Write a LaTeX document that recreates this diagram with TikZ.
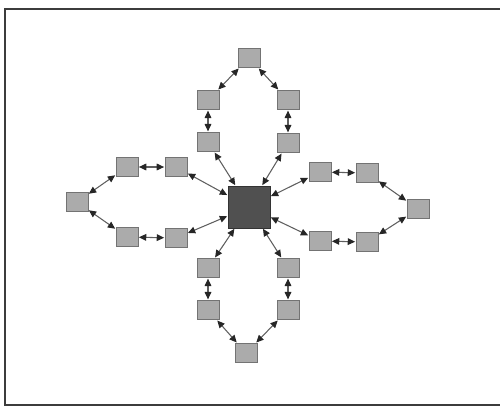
\documentclass[tikz,border=0pt]{standalone}
\usetikzlibrary{arrows.meta}
\definecolor{rim}{HTML}{3C3C3C}
\definecolor{hubgray}{HTML}{505050}
\definecolor{cell}{HTML}{ABABAB}
\definecolor{wire}{HTML}{5E5E5E}

\begin{document}
\begin{tikzpicture}[x=0.02cm,y=-0.02cm,>={Triangle[length=4.2pt,width=3.8pt,color=black!85]},
  box/.style={draw=black!55,fill=cell,minimum width=0.44cm,minimum height=0.39cm,inner sep=0pt},
  link/.style={wire,line width=0.6pt,<->,shorten <=0.3pt,shorten >=0.3pt}]
  \useasboundingbox (0,0) rectangle (500,409);
  % scanned page frame, open on the right
  \draw[rim,line width=1.1pt] (500,9)--(5,9)--(5,405)--(500,405);
  \node[box,fill=hubgray,draw=black!80,minimum width=0.84cm,minimum height=0.84cm]
    (hub) at (249,207) {};
  \foreach \n/\x/\y in {up1/208/142,up2/208/100,up3/249/58,up4/288/100,up5/288/143,
                        dn1/208/268,dn2/208/310,dn3/246/353,dn4/288/310,dn5/288/268,
                        lf1/176/167,lf2/127/167,lf3/77/202,lf4/127/237,lf5/176/238,
                        rt1/320/172,rt2/367/173,rt3/418/209,rt4/367/242,rt5/320/241}{
    \node[box] (\n) at (\x,\y) {};
  }
  \foreach \p in {up,dn,lf,rt}{
    \draw[link] (hub)--(\p1);
    \foreach \i [count=\j from 2] in {1,...,4}
      \draw[link] (\p\i)--(\p\j);
    \draw[link] (\p5)--(hub);
  }
\end{tikzpicture}
\end{document}
